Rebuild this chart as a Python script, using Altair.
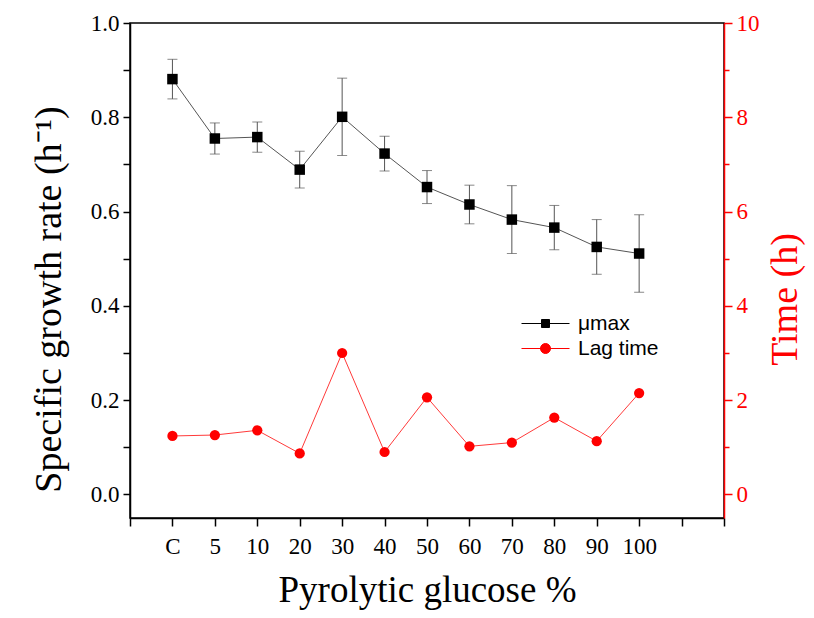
import altair as alt
import pandas as pd

categories = ["C", "5", "10", "20", "30", "40", "50", "60", "70", "80", "90", "100"]
mu_max = [0.881, 0.755, 0.758, 0.689, 0.801, 0.723, 0.652, 0.615, 0.583, 0.566, 0.525, 0.511]
mu_err = [0.042, 0.033, 0.032, 0.039, 0.082, 0.037, 0.035, 0.041, 0.072, 0.047, 0.058, 0.082]
lag_time = [1.24, 1.26, 1.36, 0.87, 3.00, 0.90, 2.06, 1.02, 1.10, 1.63, 1.13, 2.15]
series_names = ["μmax", "Lag time"]

df = pd.DataFrame({
    "pos": list(range(1, len(categories) + 1)),
    "cat": categories,
    "mu": mu_max,
    "err": mu_err,
    "lag": lag_time,
})
df["lo"] = df["mu"] - df["err"]
df["hi"] = df["mu"] + df["err"]

RED = "#ff0000"
SERIF = "Liberation Serif"

cat_js = "[" + ",".join("'" + c + "'" for c in categories) + "]"
x_enc = alt.X(
    "pos:Q",
    scale=alt.Scale(domain=[0, len(categories) + 2], nice=False, zero=False),
    axis=alt.Axis(
        values=list(range(len(categories) + 3)),
        labelExpr=f"(datum.value >= 1 && datum.value <= {len(categories)}) ? {cat_js}[datum.value - 1] : ''",
        title="Pyrolytic glucose %",
        titleFontSize=37,
        titleY=83,
        titleBaseline="alphabetic",
        labelPadding=9,
        tickSize=8,
    ),
)

left_scale = alt.Scale(domain=[-0.05, 1.0], nice=False, zero=False)
left_axis = alt.Axis(
    values=[i / 10 for i in range(11)],
    labelExpr="round(datum.value * 10) % 2 == 0 ? format(datum.value, '.1f') : ''",
    title="Specific growth rate (h⁻¹)",
    titleFontSize=38,
    titleAngle=270,
    titleX=-70,
    titleY=276,
    titleAlign="center",
    titleBaseline="alphabetic",
    tickSize=7,
    labelPadding=4,
)

base = alt.Chart(df)

err_rule = base.mark_rule(color="#555555", strokeWidth=1).encode(
    x=x_enc, y=alt.Y("lo:Q", scale=left_scale, axis=left_axis), y2="hi:Q"
)
cap_top = base.mark_tick(orient="horizontal", size=10, thickness=1, color="#555555").encode(
    x=x_enc, y=alt.Y("hi:Q", scale=left_scale, axis=left_axis)
)
cap_bot = base.mark_tick(orient="horizontal", size=10, thickness=1, color="#555555").encode(
    x=x_enc, y=alt.Y("lo:Q", scale=left_scale, axis=left_axis)
)
mu_line = base.mark_line(color="#555555", strokeWidth=1).encode(
    x=x_enc, y=alt.Y("mu:Q", scale=left_scale, axis=left_axis)
)
mu_pts = base.mark_point(shape="square", filled=True, size=110, color="black", opacity=1).encode(
    x=x_enc, y=alt.Y("mu:Q", scale=left_scale, axis=left_axis)
)
left = alt.layer(err_rule, cap_top, cap_bot, mu_line, mu_pts)

right_scale = alt.Scale(domain=[-0.5, 10], nice=False, zero=False)
right_axis = alt.Axis(
    orient="right",
    values=list(range(11)),
    labelExpr="datum.value % 2 == 0 ? datum.label : ''",
    title="Time (h)",
    titleFontSize=38,
    titleAngle=270,
    titleX=72,
    titleY=276,
    titleAlign="center",
    titleBaseline="alphabetic",
    titleColor=RED,
    labelColor=RED,
    tickColor=RED,
    domainColor=RED,
    tickSize={"condition": {"test": "datum.value % 2 == 0", "value": 8}, "value": 5},
    labelPadding=4,
)
lag_line = base.mark_line(color="#ff3a3a", strokeWidth=1).encode(
    x=x_enc, y=alt.Y("lag:Q", scale=right_scale, axis=right_axis)
)
lag_pts = base.mark_point(shape="circle", filled=True, size=105, color=RED, opacity=1).encode(
    x=x_enc, y=alt.Y("lag:Q", scale=right_scale, axis=right_axis)
)
right = alt.layer(lag_line, lag_pts)

sq_path = "M-2.4,0H2.4M-0.4,-0.4H0.4V0.4H-0.4Z"
ci_path = "M-2.4,0H2.4M0.5,0A0.5,0.5,0,1,1,-0.5,0A0.5,0.5,0,1,1,0.5,0Z"
legend_df = pd.DataFrame({"series": series_names})
leg = alt.Legend(
    orient="none", legendX=405, legendY=290, title=None,
    labelFont="Liberation Sans", labelFontSize=21, labelColor="black",
    symbolSize=400, rowPadding=3, labelOffset=22, padding=0,
    symbolStrokeWidth=1,
)
color_scale = alt.Scale(domain=series_names, range=["black", RED])
legend_layer = alt.Chart(legend_df).mark_point(filled=True, opacity=1).encode(
    color=alt.Color("series:N", scale=color_scale, legend=leg),
    stroke=alt.Stroke("series:N", scale=color_scale, legend=leg),
    shape=alt.Shape("series:N", scale=alt.Scale(domain=series_names, range=[sq_path, ci_path]), legend=leg),
).transform_filter("false")

chart = (
    alt.layer(left, right, legend_layer)
    .resolve_scale(y="independent")
    .properties(
        width=594,
        height=495,
        padding={"left": 122, "top": 15, "right": 82, "bottom": 92},
        autosize=alt.AutoSizeParams(type="none"),
        background="white",
    )
    .configure_axis(
        labelFont=SERIF, titleFont=SERIF, labelFontSize=23, titleFontSize=36,
        titleFontWeight="normal", labelColor="black", titleColor="black",
        domainColor="black", tickColor="black", grid=False,
        domainWidth=1.5, tickWidth=1.5,
    )
    .configure_view(stroke="black", strokeWidth=1.5)
)

chart.save("out.html", embed_options={"renderer": "svg", "actions": False})
